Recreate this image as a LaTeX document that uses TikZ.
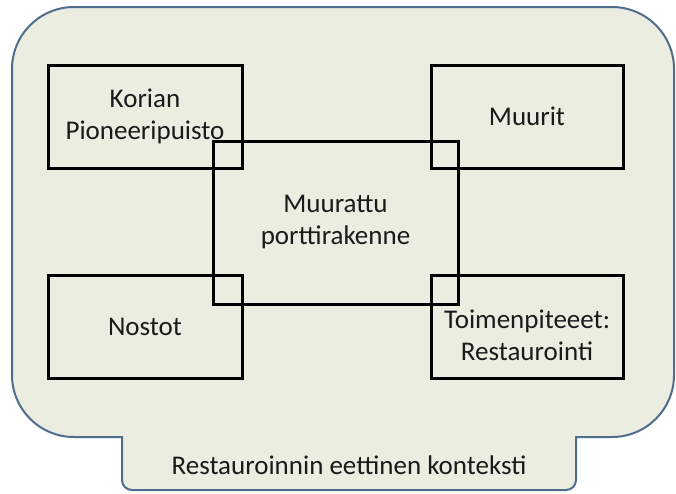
\documentclass[tikz,border=0pt]{standalone}
\usepackage{fontspec}
\setmainfont{Carlito}
\usepackage{xcolor}

\definecolor{ctxfill}{HTML}{EBEDE0}
\definecolor{ctxline}{HTML}{4F6D8F}
\definecolor{ink}{HTML}{1A1A1A}

\begin{document}
\begin{tikzpicture}[x=1pt,y=-1pt,
  big/.style={font=\fontsize{27}{32}\selectfont,text=ink,align=center},
  box/.style={big,draw=black,line width=3pt,inner sep=0pt,minimum height=103pt}]
\useasboundingbox (0,0) rectangle (676,493);
% ethical context (rounded panel with a tab below)
\draw[ctxline,line width=2pt,fill=ctxfill]
  (12,250) [rounded corners=62pt] -- (12,7) -- (674,7) -- (674,437)
  [sharp corners] -- (576,437) [rounded corners=10pt] -- (576,490) -- (122,490)
  [sharp corners] -- (122,437) [rounded corners=62pt] -- (12,437) [sharp corners] -- cycle;
\node[big] (ctx) at (349,465) {Restauroinnin eettinen konteksti};
% corner boxes
\node[box,minimum width=194pt] (korian) at (145,116.5) {Korian\\Pioneeripuisto};
\node[box,minimum width=192pt] (muurit) at (527,116.5) {Muurit};
\node[box,minimum width=194pt] (nostot) at (145,327) {Nostot};
\node[box,minimum width=192pt,
  label={[big,name=toimtxt,yshift=-8pt]center:{Toimenpiteeet:\\Restaurointi}}] (toim) at (527,327) {};
% centre box over the others
\node[box,minimum width=245pt,minimum height=163pt] (portti) at (335.5,222.5) {Muurattu\\porttirakenne};
\end{tikzpicture}
\end{document}
